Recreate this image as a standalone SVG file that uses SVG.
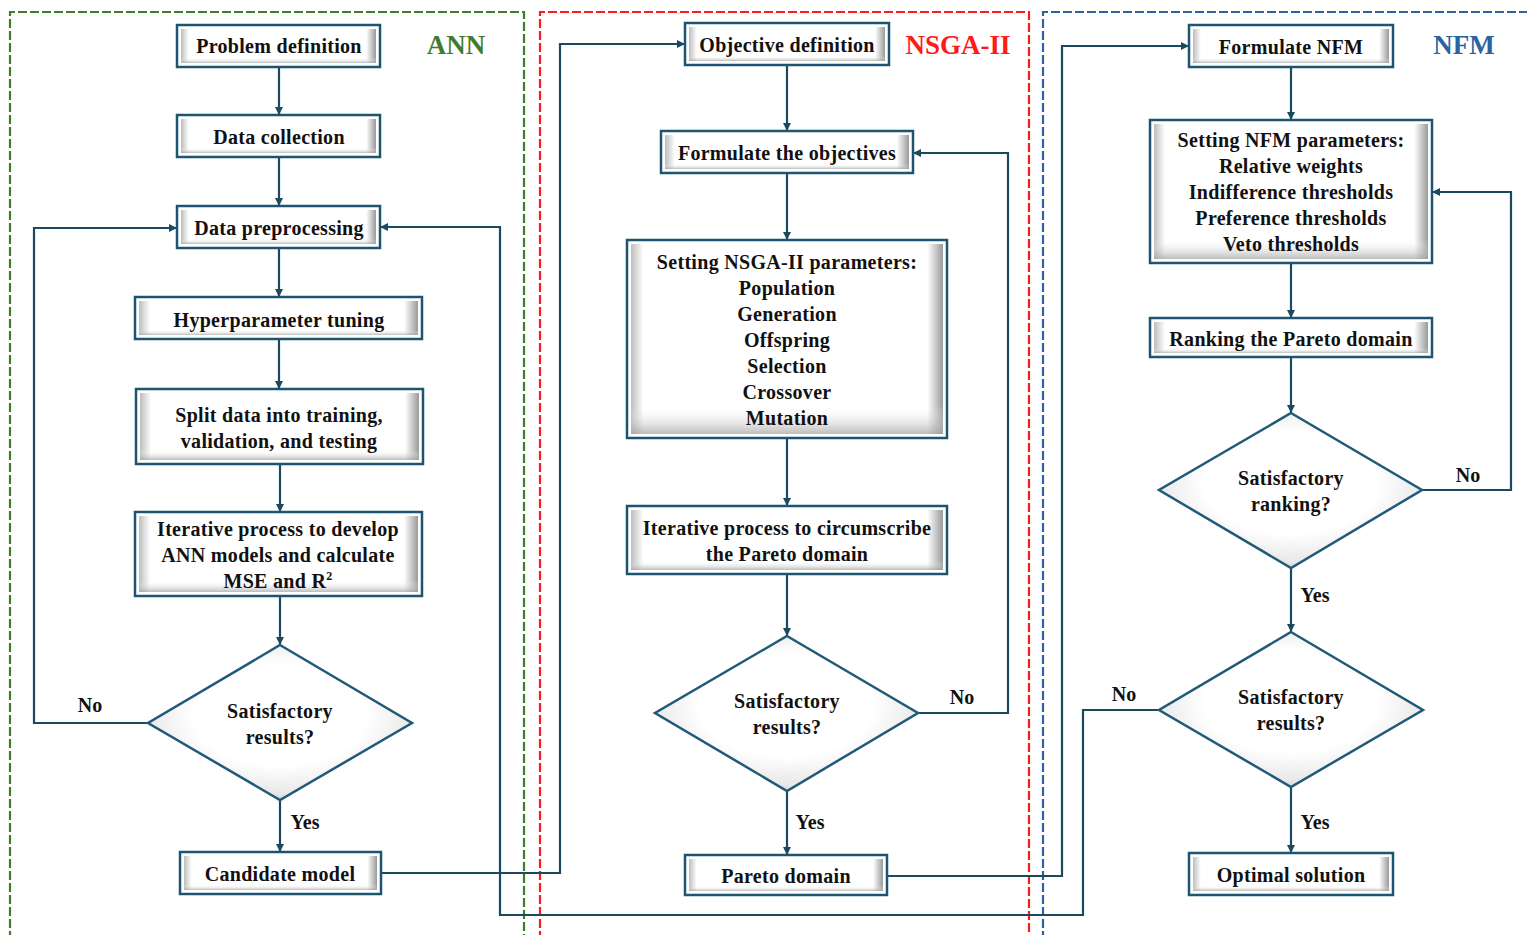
<svg xmlns="http://www.w3.org/2000/svg" width="1527" height="935" viewBox="0 0 1527 935">
<style>
.t{font-family:"Liberation Serif","Times New Roman",serif;font-weight:bold;font-size:20px;letter-spacing:0.3px;fill:#111;text-anchor:middle}
.lbl{font-family:"Liberation Serif","Times New Roman",serif;font-weight:bold;font-size:20px;fill:#111;text-anchor:middle}
.title{font-family:"Liberation Serif","Times New Roman",serif;font-weight:bold;font-size:27px;text-anchor:middle}
.ob{fill:#fff;stroke:#1d5470;stroke-width:2.5}
.ib{fill:url(#bevH);stroke:none}
.ib2{fill:url(#bevV);stroke:none}
.dm{fill:url(#dmG);stroke:#1f5a78;stroke-width:2.5}
.c{fill:none;stroke:#1b4a60;stroke-width:2.2}
.ca{fill:none;stroke:#1b4a60;stroke-width:2.2;marker-end:url(#ah)}
.reg{fill:none;stroke-width:2.2;stroke-dasharray:9 3}
</style>
<defs>
<linearGradient id="bevH" x1="0" y1="0" x2="1" y2="0">
<stop offset="0" stop-color="#bdbdbd"/>
<stop offset="0.04" stop-color="#ffffff"/>
<stop offset="0.95" stop-color="#ffffff"/>
<stop offset="1" stop-color="#9a9a9a"/>
</linearGradient>
<linearGradient id="bevV" x1="0" y1="0" x2="0" y2="1">
<stop offset="0" stop-color="#ffffff" stop-opacity="0"/>
<stop offset="0.85" stop-color="#ffffff" stop-opacity="0"/>
<stop offset="1" stop-color="#a0a0a0" stop-opacity="0.7"/>
</linearGradient>
<radialGradient id="dmG" cx="0.5" cy="0.45" r="0.6">
<stop offset="0.55" stop-color="#ffffff"/>
<stop offset="0.85" stop-color="#e8e8e8"/>
<stop offset="1" stop-color="#b8b8b8"/>
</radialGradient>
<marker id="ah" markerUnits="userSpaceOnUse" markerWidth="9" markerHeight="8" refX="8" refY="4" orient="auto">
<path d="M0,0 L8,4 L0,8 z" fill="#1b4a60"/>
</marker>
</defs>
<rect width="1527" height="935" fill="#fff"/>

<g id="regions">
<path class="reg" stroke="#3f7d2c" d="M10,940 V12 H524 V940"/>
<path class="reg" stroke="#ff1a1a" d="M540,940 V12 H1029 V940"/>
<path class="reg" stroke="#2a64a0" d="M1043,940 V12 H1530"/>
<text class="title" x="456" y="54" fill="#3f7d2c">ANN</text>
<text class="title" x="958" y="54" fill="#ff1a1a">NSGA-II</text>
<text class="title" x="1464" y="54" fill="#2a64a0">NFM</text>
</g>

<g id="connectors">
<line class="ca" x1="279" y1="67" x2="279" y2="115"/>
<line class="ca" x1="279" y1="157" x2="279" y2="206"/>
<line class="ca" x1="279" y1="248" x2="279" y2="297"/>
<line class="ca" x1="279" y1="339" x2="279" y2="389"/>
<line class="ca" x1="280" y1="464" x2="280" y2="512"/>
<line class="ca" x1="280" y1="596" x2="280" y2="645"/>
<line class="ca" x1="280" y1="800" x2="280" y2="852"/>
<polyline class="ca" points="148,723 34,723 34,228 177,228"/>
<polyline class="ca" points="381,873 560,873 560,44 685,44"/>
<line class="ca" x1="787" y1="65" x2="787" y2="131"/>
<line class="ca" x1="787" y1="173" x2="787" y2="240"/>
<line class="ca" x1="787" y1="438" x2="787" y2="506"/>
<line class="ca" x1="787" y1="574" x2="787" y2="636"/>
<line class="ca" x1="787" y1="791" x2="787" y2="855"/>
<polyline class="ca" points="918,713 1008,713 1008,153 913,153"/>
<polyline class="ca" points="887,876 1062,876 1062,46 1189,46"/>
<line class="ca" x1="1291" y1="67" x2="1291" y2="120"/>
<line class="ca" x1="1291" y1="263" x2="1291" y2="318"/>
<line class="ca" x1="1291" y1="357" x2="1291" y2="413"/>
<line class="ca" x1="1291" y1="568" x2="1291" y2="632"/>
<line class="ca" x1="1291" y1="787" x2="1291" y2="853"/>
<polyline class="ca" points="1422,490 1511,490 1511,192 1432,192"/>
<polyline class="ca" points="1159,710 1083,710 1083,915 500,915 500,227 380,227"/>
<text class="lbl" x="90" y="712">No</text>
<text class="lbl" x="305" y="829">Yes</text>
<text class="lbl" x="962" y="704">No</text>
<text class="lbl" x="810" y="829">Yes</text>
<text class="lbl" x="1468" y="482">No</text>
<text class="lbl" x="1315" y="602">Yes</text>
<text class="lbl" x="1124" y="701">No</text>
<text class="lbl" x="1315" y="829">Yes</text>
</g>

<g id="n-problem"><rect class="ob" x="177" y="25" width="203" height="42"/><rect class="ib" x="181" y="29" width="195" height="34"/><rect class="ib2" x="181" y="29" width="195" height="34"/><text class="t" x="279" y="53">Problem definition</text></g>
<g id="n-collection"><rect class="ob" x="177" y="115" width="203" height="42"/><rect class="ib" x="181" y="119" width="195" height="34"/><rect class="ib2" x="181" y="119" width="195" height="34"/><text class="t" x="279" y="144">Data collection</text></g>
<g id="n-preproc"><rect class="ob" x="177" y="206" width="203" height="42"/><rect class="ib" x="181" y="210" width="195" height="34"/><rect class="ib2" x="181" y="210" width="195" height="34"/><text class="t" x="279" y="235">Data preprocessing</text></g>
<g id="n-hyper"><rect class="ob" x="135" y="297" width="287" height="42"/><rect class="ib" x="139" y="301" width="279" height="34"/><rect class="ib2" x="139" y="301" width="279" height="34"/><text class="t" x="279" y="327">Hyperparameter tuning</text></g>
<g id="n-split"><rect class="ob" x="136" y="389" width="287" height="75"/><rect class="ib" x="140" y="393" width="279" height="67"/><rect class="ib2" x="140" y="393" width="279" height="67"/><text class="t" x="279" y="422">Split data into training,</text><text class="t" x="279" y="448">validation, and testing</text></g>
<g id="n-iter-ann"><rect class="ob" x="135" y="512" width="287" height="84"/><rect class="ib" x="139" y="516" width="279" height="76"/><rect class="ib2" x="139" y="516" width="279" height="76"/><text class="t" x="278" y="536">Iterative process to develop</text><text class="t" x="278" y="562">ANN models and calculate</text><text class="t" x="278" y="588">MSE and R<tspan font-size="12" dy="-8">2</tspan></text></g>
<g id="n-dec-ann"><polygon class="dm" points="280,645 412,723 280,800 148,723"/><text class="t" x="280" y="718">Satisfactory</text><text class="t" x="280" y="744">results?</text></g>
<g id="n-candidate"><rect class="ob" x="180" y="852" width="201" height="42"/><rect class="ib" x="184" y="856" width="193" height="34"/><rect class="ib2" x="184" y="856" width="193" height="34"/><text class="t" x="280" y="881">Candidate model</text></g>

<g id="n-objdef"><rect class="ob" x="685" y="23" width="204" height="42"/><rect class="ib" x="689" y="27" width="196" height="34"/><rect class="ib2" x="689" y="27" width="196" height="34"/><text class="t" x="787" y="52">Objective definition</text></g>
<g id="n-formobj"><rect class="ob" x="661" y="131" width="252" height="42"/><rect class="ib" x="665" y="135" width="244" height="34"/><rect class="ib2" x="665" y="135" width="244" height="34"/><text class="t" x="787" y="160">Formulate the objectives</text></g>
<g id="n-nsgaparams"><rect class="ob" x="627" y="240" width="320" height="198"/><rect class="ib" x="631" y="244" width="312" height="190"/><rect class="ib2" x="631" y="244" width="312" height="190"/>
<text class="t" x="787" y="269">Setting NSGA-II parameters:</text><text class="t" x="787" y="295">Population</text><text class="t" x="787" y="321">Generation</text><text class="t" x="787" y="347">Offspring</text><text class="t" x="787" y="373">Selection</text><text class="t" x="787" y="399">Crossover</text><text class="t" x="787" y="425">Mutation</text></g>
<g id="n-iter-nsga"><rect class="ob" x="627" y="506" width="320" height="68"/><rect class="ib" x="631" y="510" width="312" height="60"/><rect class="ib2" x="631" y="510" width="312" height="60"/><text class="t" x="787" y="535">Iterative process to circumscribe</text><text class="t" x="787" y="561">the Pareto domain</text></g>
<g id="n-dec-nsga"><polygon class="dm" points="787,636 918,713 787,791 655,713"/><text class="t" x="787" y="708">Satisfactory</text><text class="t" x="787" y="734">results?</text></g>
<g id="n-pareto"><rect class="ob" x="685" y="855" width="202" height="40"/><rect class="ib" x="689" y="859" width="194" height="32"/><rect class="ib2" x="689" y="859" width="194" height="32"/><text class="t" x="786" y="883">Pareto domain</text></g>

<g id="n-formnfm"><rect class="ob" x="1189" y="25" width="204" height="42"/><rect class="ib" x="1193" y="29" width="196" height="34"/><rect class="ib2" x="1193" y="29" width="196" height="34"/><text class="t" x="1291" y="54">Formulate NFM</text></g>
<g id="n-nfmparams"><rect class="ob" x="1150" y="120" width="282" height="143"/><rect class="ib" x="1154" y="124" width="274" height="135"/><rect class="ib2" x="1154" y="124" width="274" height="135"/>
<text class="t" x="1291" y="147">Setting NFM parameters:</text><text class="t" x="1291" y="173">Relative weights</text><text class="t" x="1291" y="199">Indifference thresholds</text><text class="t" x="1291" y="225">Preference thresholds</text><text class="t" x="1291" y="251">Veto thresholds</text></g>
<g id="n-ranking"><rect class="ob" x="1150" y="318" width="282" height="39"/><rect class="ib" x="1154" y="322" width="274" height="31"/><rect class="ib2" x="1154" y="322" width="274" height="31"/><text class="t" x="1291" y="346">Ranking the Pareto domain</text></g>
<g id="n-dec-rank"><polygon class="dm" points="1291,413 1422,490 1291,568 1159,490"/><text class="t" x="1291" y="485">Satisfactory</text><text class="t" x="1291" y="511">ranking?</text></g>
<g id="n-dec-nfm"><polygon class="dm" points="1291,632 1423,710 1291,787 1159,710"/><text class="t" x="1291" y="704">Satisfactory</text><text class="t" x="1291" y="730">results?</text></g>
<g id="n-optimal"><rect class="ob" x="1189" y="853" width="204" height="42"/><rect class="ib" x="1193" y="857" width="196" height="34"/><rect class="ib2" x="1193" y="857" width="196" height="34"/><text class="t" x="1291" y="882">Optimal solution</text></g>
</svg>
